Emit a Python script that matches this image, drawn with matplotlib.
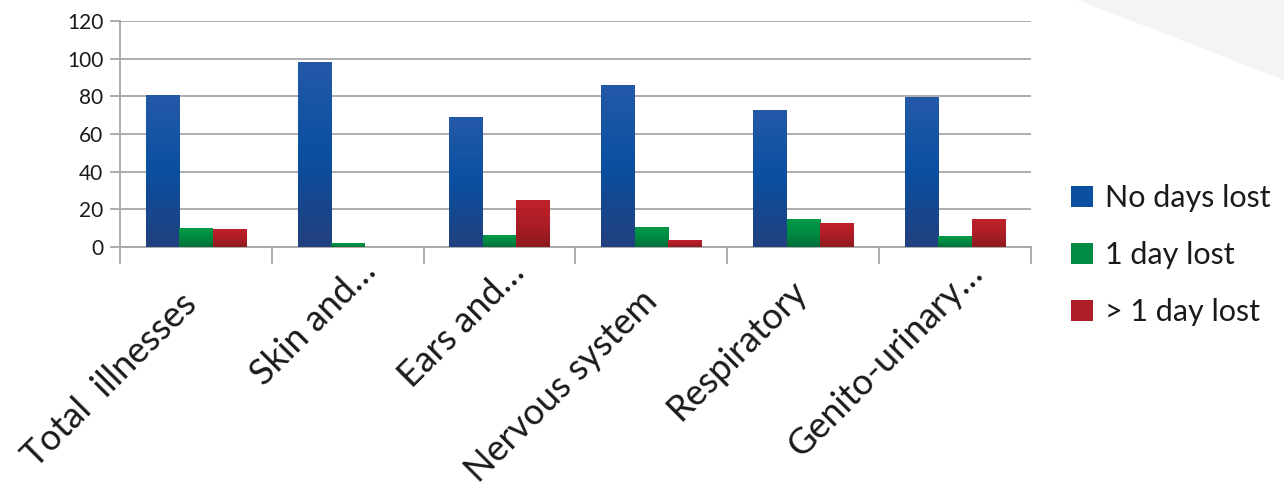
import numpy as np
import matplotlib.pyplot as plt
from matplotlib.colors import LinearSegmentedColormap
from matplotlib.patches import Patch, Polygon
from matplotlib.transforms import ScaledTranslation

plt.rcParams['font.family'] = ['Lato', 'DejaVu Sans']

categories = ["Total  illnesses", "Skin and…", "Ears and…",
              "Nervous system", "Respiratory", "Genito-urinary…"]
series_names = ["No days lost", "1 day lost", "> 1 day lost"]
no_days = [80.5, 98, 69, 86, 73, 79.5]
one_day = [10, 2, 6.2, 10.5, 14.7, 5.7]
more_days = [9.5, 0, 24.8, 3.5, 12.6, 14.7]

# where each rotated label's baseline ends, in pixels from its tick centre
label_nudge = [(3, 59), (30, 26), (27, 28), (8, 56), (6, 46), (30, 28)]

# top, middle, bottom shades for each series
shades = [
    ["#2459a8", "#0a4fa0", "#22407e"],
    ["#009b48", "#008a42", "#006f3a"],
    ["#c0212b", "#ad1e26", "#8c1a1d"],
]

fig = plt.figure(figsize=(12.84, 4.84), dpi=100)

# faint slide decoration in the top right corner
fig.patches.append(Polygon([[1078 / 1284, 1], [1, 1], [1, 1 - 80 / 484]],
                           closed=True, transform=fig.transFigure,
                           facecolor="#f3f4f5", edgecolor="none", zorder=0))

ax = fig.add_axes([120 / 1284, 1 - 247 / 484, 911 / 1284, 226 / 484])
ax.set_facecolor("none")

x = np.arange(len(categories))
width = 0.22
grid_color = "#a6a6a6"

for i, (vals, name) in enumerate(zip([no_days, one_day, more_days], series_names)):
    cmap = LinearSegmentedColormap.from_list(name, shades[i][::-1])
    bars = ax.bar(x + (i - 1) * width, vals, width, color=shades[i][1],
                  zorder=3, linewidth=0)
    for b in bars:
        h = b.get_height()
        if h <= 0:
            continue
        grad = np.linspace(0, 1, 256).reshape(-1, 1)
        im = ax.imshow(grad, cmap=cmap, origin="lower", aspect="auto",
                       extent=(b.get_x(), b.get_x() + b.get_width(), 0, h),
                       zorder=4)
        im.set_clip_path(b)

ax.set_xlim(-0.5, len(categories) - 0.5)
ax.set_ylim(0, 120)
ax.set_yticks(range(0, 121, 20))
ax.yaxis.grid(True, color=grid_color, linewidth=1.3, zorder=0)

# category names drawn as rotated texts hanging below each group
ax.set_xticks(x)
ax.set_xticklabels([])
for xi, name, (dx, dy) in zip(x, categories, label_nudge):
    off = ScaledTranslation(dx / 100, -dy / 100, fig.dpi_scale_trans)
    ax.text(xi, 0, name, transform=ax.get_xaxis_transform() + off,
            rotation=45, rotation_mode="anchor", ha="right", va="baseline",
            fontsize=26, color="#1a1a1a", clip_on=False)

ax.set_xticks(np.arange(-0.5, len(categories), 1), minor=True)
ax.tick_params(axis="x", which="major", length=0)
ax.tick_params(axis="x", which="minor", length=12, width=1.3, color=grid_color)
ax.tick_params(axis="y", length=7, width=1.3, color=grid_color,
               labelsize=15, labelcolor="#1a1a1a", pad=5)

for side in ["top", "right"]:
    ax.spines[side].set_visible(False)
for side in ["left", "bottom"]:
    ax.spines[side].set_color(grid_color)
    ax.spines[side].set_linewidth(1.3)

handles = [Patch(facecolor=shades[i][1], edgecolor="none") for i in range(3)]
fig.legend(handles, series_names, loc="center left",
           bbox_to_anchor=(1056 / 1284, 1 - 255 / 484),
           frameon=False, fontsize=22, handlelength=0.7, handleheight=0.7,
           handletextpad=0.4, labelspacing=0.95, borderpad=0,
           labelcolor="#1a1a1a")

fig.savefig("out.png", dpi=100)
